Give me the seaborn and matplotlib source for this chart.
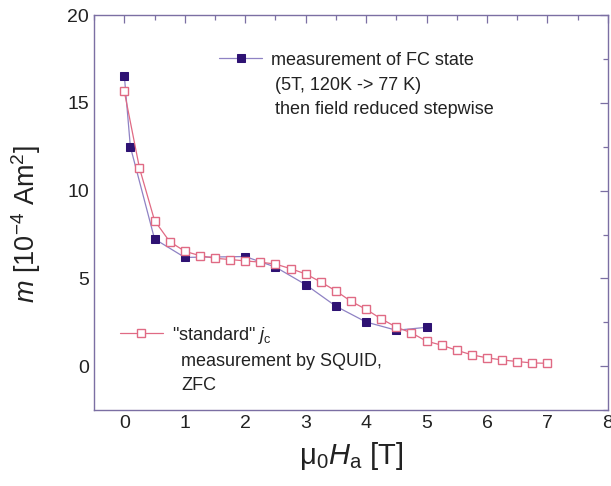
import matplotlib
matplotlib.use('Agg')
import matplotlib.pyplot as plt
import seaborn as sns
from matplotlib.ticker import MultipleLocator

# FC state measurement (field reduced stepwise)
fc_field = [0.0, 0.1, 0.5, 1.0, 2.0, 2.5, 3.0, 3.5, 4.0, 4.5, 5.0]
fc_moment = [16.55, 12.5, 7.25, 6.2, 6.25, 5.65, 4.65, 3.42, 2.52, 2.05, 2.22]

# "standard" jc measurement by SQUID, ZFC
zfc_field = [0.0, 0.25, 0.5, 0.75, 1.0, 1.25, 1.5, 1.75, 2.0, 2.25, 2.5, 2.75, 3.0,
             3.25, 3.5, 3.75, 4.0, 4.25, 4.5, 4.75, 5.0, 5.25, 5.5, 5.75, 6.0,
             6.25, 6.5, 6.75, 7.0]
zfc_moment = [15.65, 11.3, 8.3, 7.1, 6.55, 6.3, 6.15, 6.08, 6.0, 5.93, 5.82, 5.56,
              5.26, 4.8, 4.29, 3.7, 3.24, 2.7, 2.23, 1.9, 1.43, 1.2, 0.91, 0.65,
              0.48, 0.36, 0.27, 0.19, 0.17]

fc_label = ['measurement of FC state', '(5T, 120K -> 77 K)', 'then field reduced stepwise']
zfc_label = ['"standard" $j_{\\mathrm{c}}$', 'measurement by SQUID,', 'ZFC']

sns.set_style('white')
plt.rcParams['font.family'] = ['Liberation Sans', 'DejaVu Sans']
plt.rcParams['mathtext.fontset'] = 'custom'
plt.rcParams['mathtext.rm'] = 'Liberation Sans'
plt.rcParams['mathtext.it'] = 'Liberation Sans:italic'

frame_col = '#7b6fa3'
fc_col = '#2e1273'
fc_line = '#8f82c4'
zfc_col = '#e06a84'
txt_col = '#222222'

fig = plt.figure(figsize=(6.11, 4.86), dpi=100)
ax = fig.add_axes([0.154, 0.156, 0.841, 0.813])

sns.lineplot(x=fc_field, y=fc_moment, ax=ax, sort=False, color=fc_line, lw=0.9,
             marker='s', markersize=5.6, markerfacecolor=fc_col,
             markeredgecolor=fc_col, zorder=2)
sns.lineplot(x=zfc_field, y=zfc_moment, ax=ax, sort=False, color=zfc_col, lw=0.9,
             marker='s', markersize=5.6, markerfacecolor='white',
             markeredgecolor=zfc_col, markeredgewidth=1.0, zorder=3)

lines = ax.get_lines()
leg_kw = dict(loc='center left', frameon=False, fontsize=13, handlelength=2.4,
              handletextpad=0.5, borderpad=0, borderaxespad=0)
leg1 = ax.legend([lines[0]], [fc_label[0]], bbox_to_anchor=(0.243, 0.886), **leg_kw)
ax.add_artist(leg1)
ax.text(0.352, 0.823, fc_label[1], transform=ax.transAxes, fontsize=13,
        va='center', color=txt_col)
ax.text(0.352, 0.760, fc_label[2], transform=ax.transAxes, fontsize=13,
        va='center', color=txt_col)
leg2 = ax.legend([lines[1]], [zfc_label[0]], bbox_to_anchor=(0.05, 0.190), **leg_kw)
ax.text(0.169, 0.124, zfc_label[1], transform=ax.transAxes, fontsize=13,
        va='center', color=txt_col)
ax.text(0.169, 0.063, zfc_label[2], transform=ax.transAxes, fontsize=13,
        va='center', color=txt_col)
for leg in (leg1, leg2):
    for t in leg.get_texts():
        t.set_color(txt_col)

ax.set_xlim(-0.5, 8)
ax.set_ylim(-2.5, 20)
ax.xaxis.set_major_locator(MultipleLocator(1))
ax.xaxis.set_minor_locator(MultipleLocator(0.5))
ax.yaxis.set_major_locator(MultipleLocator(5))
ax.yaxis.set_minor_locator(MultipleLocator(2.5))
ax.tick_params(which='both', direction='in', top=True, right=True,
               color=frame_col, labelsize=14, labelcolor=txt_col)
ax.tick_params(which='major', length=6, width=0.9)
ax.tick_params(which='minor', length=3.5, width=0.9)
for s in ax.spines.values():
    s.set_color(frame_col)
    s.set_linewidth(1.0)

ax.set_xlabel(r'$\mathrm{\mu}_0H_\mathrm{a}$ [T]', fontsize=21, color=txt_col, labelpad=6)
ax.set_ylabel(r'$m$ [10$^{-4}$ Am$^2$]', fontsize=19.5, color=txt_col)
ax.yaxis.set_label_coords(-0.10, 0.47)

plt.savefig('out.png', dpi=100)
plt.close()
